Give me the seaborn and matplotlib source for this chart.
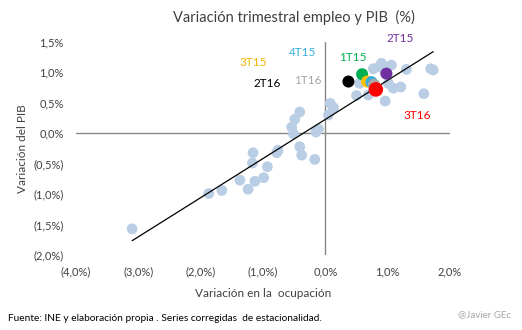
import matplotlib
matplotlib.use("Agg")
import matplotlib.pyplot as plt
from matplotlib.ticker import FuncFormatter
import seaborn as sns
import pandas as pd

# Historical quarters (light blue)
hist_x = [-3.10, -1.87, -1.66, -1.37, -1.24, -1.13, -0.99, -0.93, -1.17, -1.16,
          -0.78, -0.76, -0.41, -0.38, -0.17, -0.54, -0.51, -0.49, -0.41, -0.15,
          -0.11, 0.05, 0.08, 0.13, 0.50, 0.69, 0.55, 0.77, 0.87, 0.90,
          0.95, 1.06, 1.01, 1.09, 1.21, 1.30, 0.96, 1.58, 1.69, 1.73]
hist_y = [-1.57, -0.99, -0.94, -0.77, -0.92, -0.79, -0.73, -0.55, -0.49, -0.32,
          -0.32, -0.28, -0.22, -0.36, -0.43, 0.10, -0.01, 0.23, 0.35, 0.02,
          0.07, 0.30, 0.49, 0.42, 0.62, 0.63, 0.82, 1.06, 1.10, 1.15,
          1.02, 1.12, 0.82, 0.74, 0.76, 1.05, 0.53, 0.65, 1.06, 1.04]

# Highlighted recent quarters
hl_labels = ["1T15", "2T15", "3T15", "4T15", "1T16", "2T16", "3T16"]
hl_x = [0.59, 0.98, 0.67, 0.74, 0.78, 0.37, 0.81]
hl_y = [0.97, 0.98, 0.85, 0.84, 0.80, 0.85, 0.72]
hl_colors = ["#00b050", "#7030a0", "#ffc000", "#31b0e0", "#a6a6a6", "#000000", "#ff0000"]
lbl_x = [0.44, 1.20, -1.16, -0.36, -0.28, -0.94, 1.47]
lbl_y = [1.25, 1.55, 1.17, 1.32, 0.86, 0.81, 0.30]
lbl_colors = ["#00b050", "#7030a0", "#f0b400", "#31b0e0", "#a6a6a6", "#000000", "#ff0000"]

x_ticks = [-4, -3, -2, -1, 0, 1, 2]
y_ticks = [-2.0, -1.5, -1.0, -0.5, 0.0, 0.5, 1.0, 1.5]

sns.set_theme(style="white")
plt.rcParams['font.family'] = ['Lato', 'DejaVu Sans']

df_hist = pd.DataFrame({"x": hist_x, "y": hist_y})
df_all = pd.DataFrame({"x": hist_x + hl_x, "y": hist_y + hl_y})

fig = plt.figure(figsize=(5.22, 3.30), dpi=100)
ax = fig.add_axes([0.1456, 0.2273, 0.7165, 0.6455])

ax.axhline(0, color="#868686", lw=1, zorder=1)
ax.axvline(0, color="#868686", lw=1, zorder=1)

sns.scatterplot(data=df_hist, x="x", y="y", ax=ax, color="#b9cde5", s=60,
                edgecolor="none", zorder=2, legend=False)
sns.regplot(data=df_all, x="x", y="y", ax=ax, scatter=False, ci=None, truncate=True,
            line_kws=dict(color="black", lw=0.9, zorder=3))
sizes = [75, 75, 75, 75, 75, 75, 110]
for i in range(len(hl_labels)):
    sns.scatterplot(x=[hl_x[i]], y=[hl_y[i]], ax=ax, color=hl_colors[i], s=sizes[i],
                    edgecolor="none", zorder=4 + i, legend=False)
    ax.text(lbl_x[i], lbl_y[i], hl_labels[i], color=lbl_colors[i], fontsize=8.5,
            ha="center", va="center", clip_on=False)

ax.set_xlim(-4, 2)
ax.set_ylim(-2, 1.5)
ax.set_xticks(x_ticks)
ax.set_yticks(y_ticks)

def fmt(v, pos):
    s = f"{abs(v):.1f}".replace(".", ",") + "%"
    return f"({s})" if v < -1e-9 else s

ax.xaxis.set_major_formatter(FuncFormatter(fmt))
ax.yaxis.set_major_formatter(FuncFormatter(fmt))
ax.tick_params(axis="both", labelsize=8, colors="#404040", length=0)
ax.tick_params(axis="x", pad=8)
ax.tick_params(axis="y", pad=9)
for s in ax.spines.values():
    s.set_visible(False)

ax.set_xlabel("Variación en la  ocupación", fontsize=8.5, color="#404040", labelpad=8)
ax.set_ylabel("Variación del PIB", fontsize=8.5, color="#404040", labelpad=4)

fig.text(0.563, 0.948, "Variación trimestral empleo y PIB  (%)", fontsize=10.5,
         ha="center", va="center", color="#404040")
fig.text(0.015, 0.036, "Fuente: INE y elaboración propia . Series corregidas  de estacionalidad.",
         fontsize=7.3, ha="left", va="center", color="black")
fig.text(0.978, 0.046, "@Javier GEc", fontsize=7, ha="right", va="center", color="#a6a6a6")

fig.savefig("out.png", dpi=100)
